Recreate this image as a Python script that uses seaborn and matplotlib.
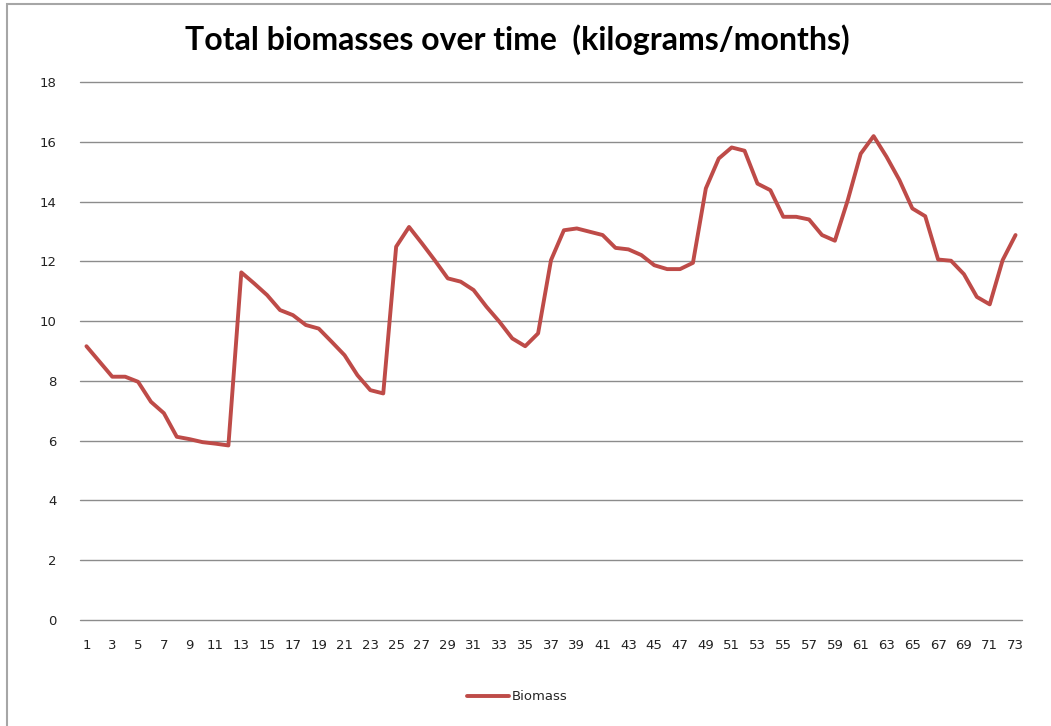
import matplotlib
matplotlib.use("Agg")
import matplotlib.pyplot as plt
import seaborn as sns
import pandas as pd
from matplotlib.patches import Rectangle

months = list(range(1, 74))
biomass = [
    9.16, 8.65, 8.14, 8.14, 7.97, 7.30, 6.92, 6.13, 6.05, 5.95,
    5.90, 5.84, 11.63, 11.26, 10.87, 10.37, 10.20, 9.87, 9.75, 9.31,
    8.86, 8.19, 7.69, 7.58, 12.49, 13.15, 12.60, 12.03, 11.43, 11.32,
    11.04, 10.48, 9.98, 9.42, 9.16, 9.59, 12.04, 13.04, 13.10, 12.99,
    12.88, 12.45, 12.40, 12.21, 11.87, 11.74, 11.74, 11.95, 14.44, 15.44,
    15.81, 15.70, 14.60, 14.38, 13.49, 13.49, 13.40, 12.88, 12.69, 14.05,
    15.60, 16.19, 15.50, 14.72, 13.77, 13.51, 12.06, 12.02, 11.57, 10.81,
    10.56, 12.04, 12.88,
]
series_name = "Biomass"
title = "Total biomasses over time  (kilograms/months)"
y_ticks = [0, 2, 4, 6, 8, 10, 12, 14, 16, 18]
x_tick_labels = [m for m in months if m % 2 == 1]

sns.set_theme(style="white")
plt.rcParams["font.family"] = ["DejaVu Sans"]

df = pd.DataFrame({"Month": months, "Biomass": biomass, "Series": series_name})

fig = plt.figure(figsize=(10.51, 7.26), dpi=100)
ax = fig.add_axes([80 / 1051, 1 - 620 / 726, (1022 - 80) / 1051, (620 - 82) / 726])

sns.lineplot(data=df, x="Month", y="Biomass", hue="Series", palette=["#BE4B48"],
             linewidth=2.8, ax=ax, legend=True)

ax.set_xlim(0.5, 73.5)
ax.set_ylim(0, 18)
ax.set_yticks(y_ticks)
ax.set_yticklabels([str(v) for v in y_ticks], fontsize=9.5, color="#222222")
ax.set_xticks(x_tick_labels)
ax.set_xticklabels([str(v) for v in x_tick_labels], fontsize=9.5, color="#222222")
ax.tick_params(axis="y", length=0, pad=17)
ax.tick_params(axis="x", length=0, pad=14)
ax.grid(axis="y", color="#8C8C8C", linewidth=1.0)
ax.grid(axis="x", visible=False)
for gl in ax.get_ygridlines():
    gl.set_clip_on(False)
for s in ax.spines.values():
    s.set_visible(False)
ax.set_xlabel("")
ax.set_ylabel("")

fig.text(517 / 1051, 1 - 40 / 726, title, ha="center", va="center",
         fontsize=23, fontweight="bold", family="Lato", color="black")

handles, labels = ax.get_legend_handles_labels()
ax.legend(handles, labels, loc="center", bbox_to_anchor=(517 / 1051, 1 - 697 / 726),
          bbox_transform=fig.transFigure, frameon=False, fontsize=9.5,
          handlelength=3.2, handletextpad=0.2)

fig.patches.append(Rectangle((7 / 1051, -0.05), 1.1, 1 - 4 / 726 + 0.05,
                             transform=fig.transFigure, fill=False,
                             edgecolor="#A6A6A6", linewidth=1.5))

fig.savefig("out.png", dpi=100, facecolor="white")
